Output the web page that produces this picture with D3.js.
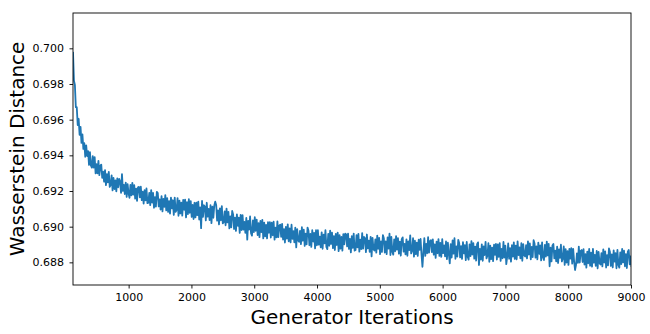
<!DOCTYPE html>
<html><head><meta charset="utf-8">
<script src="https://cdn.jsdelivr.net/npm/d3@7"></script>
<style>
body{margin:0;background:#fff}
svg{display:block}
text{font-family:"DejaVu Sans",sans-serif;fill:#000}
</style>
</head><body>
<svg id="chart" width="650" height="334"></svg>
<script>
// ---- data ----
const startIteration = 114;
const iterationStep = 15;
const distances = [
0.69980,0.69820,0.69795,0.69670,0.69670,0.69570,0.69605,0.69515,0.69560,0.69470,
0.69518,0.69436,0.69468,0.69392,0.69456,0.69396,0.69424,0.69346,0.69418,0.69344,
0.69331,0.69395,0.69331,0.69390,0.69299,0.69350,0.69299,0.69369,0.69289,0.69341,
0.69348,0.69274,0.69308,0.69252,0.69317,0.69233,0.69295,0.69248,0.69307,0.69223,
0.69234,0.69288,0.69203,0.69273,0.69211,0.69260,0.69198,0.69270,0.69221,0.69268,
0.69253,0.69189,0.69295,0.69201,0.69234,0.69183,0.69247,0.69167,0.69238,0.69186,
0.69162,0.69234,0.69175,0.69246,0.69180,0.69233,0.69157,0.69213,0.69145,0.69221,
0.69223,0.69164,0.69224,0.69149,0.69196,0.69129,0.69205,0.69147,0.69214,0.69132,
0.69135,0.69190,0.69121,0.69205,0.69135,0.69189,0.69106,0.69166,0.69112,0.69195,
0.69188,0.69114,0.69153,0.69096,0.69171,0.69086,0.69156,0.69111,0.69177,0.69091,
0.69160,0.69083,0.69143,0.69073,0.69163,0.69103,0.69148,0.69066,0.69163,0.69083,
0.69094,0.69160,0.69061,0.69146,0.69074,0.69135,0.69062,0.69150,0.69095,0.69152,
0.69052,0.69137,0.69070,0.69154,0.69078,0.69143,0.69055,0.69122,0.69043,0.69134,
0.69052,0.69135,0.69065,0.69141,0.69040,0.69108,0.68992,0.69144,0.69055,0.69120,
0.69113,0.69035,0.69134,0.69056,0.69099,0.69037,0.69120,0.69020,0.69112,0.69050,
0.69119,0.69140,0.69122,0.69034,0.69091,0.69013,0.69103,0.69036,0.69115,0.69019,
0.69025,0.69085,0.69008,0.69101,0.69024,0.69083,0.68990,0.69057,0.68996,0.69088,
0.69069,0.68987,0.69050,0.68976,0.69069,0.69005,0.69051,0.68965,0.69066,0.68981,
0.69065,0.68983,0.69027,0.68965,0.69049,0.68927,0.69033,0.68984,0.69057,0.68963,
0.68950,0.69035,0.68969,0.69053,0.68977,0.69040,0.68953,0.69020,0.68941,0.69032,
0.68969,0.69038,0.68934,0.69022,0.68946,0.69010,0.68934,0.69025,0.68966,0.69026,
0.68939,0.69022,0.68952,0.69028,0.68927,0.68994,0.68940,0.69030,0.68941,0.69006,
0.69011,0.68943,0.69016,0.68928,0.68986,0.68911,0.68999,0.68933,0.69013,0.68918,
0.68991,0.68912,0.69011,0.68932,0.68975,0.68912,0.68995,0.68884,0.68986,0.68923,
0.68915,0.68977,0.68902,0.68997,0.68922,0.68983,0.68892,0.68961,0.68901,0.68995,
0.68977,0.68896,0.68959,0.68887,0.68980,0.68917,0.68965,0.68878,0.68980,0.68896,
0.68980,0.68899,0.68944,0.68884,0.68968,0.68876,0.68955,0.68906,0.68980,0.68887,
0.68874,0.68960,0.68893,0.68978,0.68903,0.68966,0.68880,0.68947,0.68869,0.68960,
0.68897,0.68967,0.68863,0.68953,0.68877,0.68942,0.68866,0.68958,0.68901,0.68961,
0.68956,0.68889,0.68961,0.68875,0.68932,0.68856,0.68947,0.68881,0.68961,0.68866,
0.68869,0.68953,0.68884,0.68960,0.68860,0.68927,0.68874,0.68964,0.68877,0.68942,
0.68935,0.68857,0.68956,0.68878,0.68921,0.68859,0.68943,0.68833,0.68937,0.68874,
0.68866,0.68929,0.68854,0.68950,0.68876,0.68937,0.68846,0.68917,0.68858,0.68953,
0.68935,0.68855,0.68918,0.68846,0.68940,0.68877,0.68961,0.68841,0.68942,0.68859,
0.68843,0.68929,0.68862,0.68947,0.68871,0.68936,0.68849,0.68916,0.68838,0.68930,
0.68940,0.68860,0.68904,0.68845,0.68929,0.68837,0.68917,0.68868,0.68951,0.68850,
0.68865,0.68935,0.68832,0.68921,0.68846,0.68911,0.68836,0.68927,0.68870,0.68931,
0.68844,0.68775,0.68859,0.68936,0.68836,0.68904,0.68851,0.68941,0.68854,0.68919,
0.68924,0.68857,0.68929,0.68843,0.68901,0.68825,0.68916,0.68851,0.68930,0.68836,
0.68909,0.68831,0.68930,0.68852,0.68895,0.68833,0.68917,0.68818,0.68910,0.68847,
0.68794,0.68902,0.68827,0.68923,0.68849,0.68935,0.68820,0.68890,0.68832,0.68926,
0.68908,0.68828,0.68891,0.68819,0.68913,0.68850,0.68897,0.68812,0.68914,0.68831,
0.68815,0.68901,0.68835,0.68919,0.68844,0.68908,0.68821,0.68888,0.68810,0.68902,
0.68912,0.68785,0.68876,0.68816,0.68901,0.68809,0.68889,0.68841,0.68915,0.68822,
0.68837,0.68907,0.68803,0.68893,0.68818,0.68883,0.68807,0.68899,0.68842,0.68903,
0.68816,0.68900,0.68831,0.68908,0.68808,0.68876,0.68823,0.68914,0.68827,0.68893,
0.68790,0.68833,0.68906,0.68820,0.68879,0.68804,0.68896,0.68832,0.68912,0.68819,
0.68894,0.68817,0.68918,0.68841,0.68884,0.68822,0.68907,0.68809,0.68902,0.68840,
0.68833,0.68896,0.68822,0.68918,0.68844,0.68906,0.68817,0.68886,0.68829,0.68924,
0.68906,0.68826,0.68889,0.68817,0.68911,0.68848,0.68895,0.68811,0.68912,0.68829,
0.68813,0.68898,0.68832,0.68916,0.68839,0.68904,0.68778,0.68882,0.68805,0.68895,
0.68903,0.68822,0.68866,0.68805,0.68888,0.68796,0.68873,0.68825,0.68899,0.68805,
0.68820,0.68889,0.68786,0.68874,0.68799,0.68863,0.68786,0.68876,0.68821,0.68880,
0.68793,0.68876,0.68807,0.68757,0.68784,0.68850,0.68797,0.68888,0.68799,0.68864,
0.68869,0.68802,0.68874,0.68788,0.68846,0.68770,0.68860,0.68795,0.68875,0.68781,
0.68854,0.68776,0.68876,0.68798,0.68842,0.68780,0.68864,0.68766,0.68858,0.68796,
0.68788,0.68851,0.68777,0.68873,0.68799,0.68861,0.68771,0.68841,0.68783,0.68878,
0.68860,0.68780,0.68844,0.68772,0.68867,0.68804,0.68852,0.68767,0.68870,0.68787,
0.68770,0.68856,0.68790,0.68875,0.68800,0.68865,0.68778,0.68846,0.68768,0.68860,
0.68869,0.68789,0.68834,0.68774
];
const xTicks = [1000, 2000, 3000, 4000, 5000, 6000, 7000, 8000, 9000];
const yTicks = [0.688, 0.690, 0.692, 0.694, 0.696, 0.698, 0.700];
const xDomain = [114, 9000];
const yDomain = [0.68673, 0.70198];
const xLabel = "Generator Iterations";
const yLabel = "Wasserstein Distance";

// ---- layout ----
const L = 73, R = 631, T = 13, B = 285;
const svg = d3.select("#chart");
const x = d3.scaleLinear().domain(xDomain).range([L, R]);
const y = d3.scaleLinear().domain(yDomain).range([B, T]);

svg.append("defs").append("clipPath").attr("id", "clip")
  .append("rect").attr("x", L).attr("y", T).attr("width", R - L).attr("height", B - T);

const line = d3.line()
  .x((d, i) => x(startIteration + i * iterationStep))
  .y(d => y(d));

svg.append("path")
  .datum(distances)
  .attr("clip-path", "url(#clip)")
  .attr("fill", "none")
  .attr("stroke", "#1f77b4")
  .attr("stroke-width", 1.8)
  .attr("stroke-linejoin", "round")
  .attr("d", line);

const xAxis = svg.append("g").attr("transform", `translate(0,${B})`)
  .call(d3.axisBottom(x).tickValues(xTicks).tickFormat(d3.format("d")).tickSize(3.5).tickPadding(5))
  .call(g => g.select(".domain").remove());
const yAxis = svg.append("g").attr("transform", `translate(${L},0)`)
  .call(d3.axisLeft(y).tickValues(yTicks).tickFormat(d3.format(".3f")).tickSize(3.5).tickPadding(5.5))
  .call(g => g.select(".domain").remove());
[xAxis, yAxis].forEach(g => {
  g.attr("font-family", null).attr("font-size", null);
  g.selectAll("text").style("font-size", "11px").style("fill", "#000");
  g.selectAll("line").attr("stroke", "#000").attr("stroke-width", 0.9);
});

svg.append("rect")
  .attr("x", L).attr("y", T).attr("width", R - L).attr("height", B - T)
  .attr("fill", "none").attr("stroke", "#000").attr("stroke-width", 0.9);

svg.append("text")
  .attr("x", (L + R) / 2).attr("y", 324)
  .attr("text-anchor", "middle")
  .style("font-size", "20px")
  .text(xLabel);

svg.append("text")
  .attr("transform", `translate(23.5,${(T + B) / 2}) rotate(-90)`)
  .attr("text-anchor", "middle")
  .style("font-size", "20px")
  .text(yLabel);
</script>
</body></html>
